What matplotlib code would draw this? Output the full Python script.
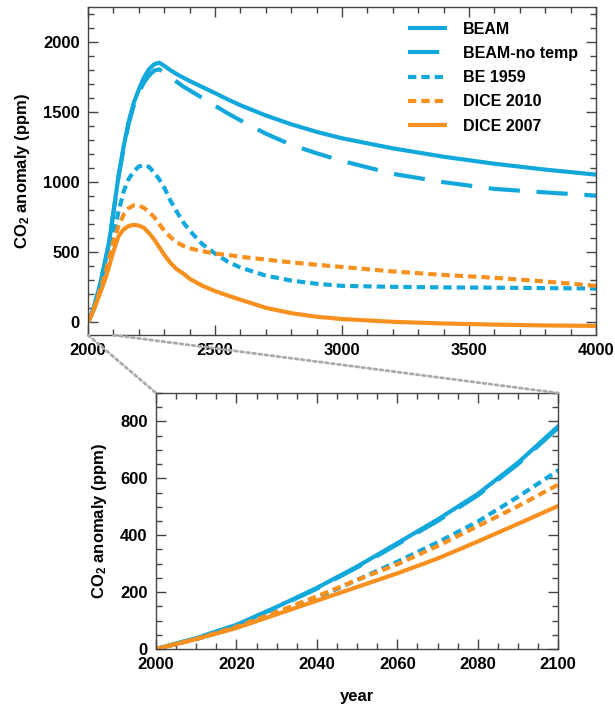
import matplotlib
matplotlib.use("Agg")
import matplotlib.pyplot as plt
from matplotlib.patches import ConnectionPatch
from matplotlib.ticker import MultipleLocator

plt.rcParams['font.family'] = ['Liberation Sans', 'DejaVu Sans']
plt.rcParams['font.weight'] = 'bold'
plt.rcParams['mathtext.fontset'] = 'custom'
plt.rcParams['mathtext.rm'] = 'Liberation Sans:bold'
plt.rcParams['mathtext.bf'] = 'Liberation Sans:bold'
plt.rcParams['mathtext.it'] = 'Liberation Sans:bold'

# data
years = [2000, 2010, 2020, 2030, 2040, 2050, 2060, 2070, 2080, 2090, 2100,
         2120, 2140, 2160, 2180, 2200, 2220, 2240, 2260, 2280, 2300,
         2325, 2350, 2375, 2400, 2450, 2500, 2550, 2600,
         2700, 2800, 2900, 3000, 3200, 3400, 3600, 3800, 4000]

beam = [0, 38, 85, 148, 215, 290, 372, 455, 545, 655, 783,
        1040, 1250, 1430, 1565, 1660, 1745, 1805, 1840, 1852, 1830,
        1798, 1770, 1745, 1722, 1678, 1635, 1590, 1548,
        1475, 1412, 1358, 1312, 1240, 1180, 1130, 1088, 1052]
beam_notemp = [0, 38, 84, 146, 212, 287, 368, 450, 540, 650, 778,
               1035, 1240, 1415, 1545, 1640, 1710, 1760, 1795, 1805, 1782,
               1745, 1715, 1682, 1655, 1600, 1545, 1490, 1440,
               1345, 1265, 1205, 1150, 1058, 998, 950, 925, 902]
be1959 = [0, 35, 75, 125, 180, 243, 307, 375, 448, 535, 628,
          785, 930, 1020, 1075, 1110, 1120, 1108, 1068, 1020, 960,
          865, 785, 712, 652, 555, 488, 430, 388,
          330, 295, 272, 257, 250, 246, 244, 241, 238]
dice2010 = [0, 35, 78, 130, 185, 243, 298, 362, 432, 502, 578,
            685, 765, 812, 833, 830, 815, 785, 750, 700, 652,
            605, 568, 543, 525, 505, 488, 478, 465,
            445, 425, 408, 392, 360, 335, 315, 288, 257]
dice2007 = [0, 35, 74, 122, 170, 218, 266, 318, 378, 440, 503,
            612, 660, 685, 693, 688, 672, 635, 590, 535, 480,
            420, 375, 345, 308, 258, 220, 188, 158,
            100, 62, 36, 20, 0, -12, -20, -26, -29]

names = ['BEAM', 'BEAM-no temp', 'BE 1959', 'DICE 2010', 'DICE 2007']
series = [beam, beam_notemp, be1959, dice2010, dice2007]

blue = '#13A8DB'
orange = '#F7901E'
colors = [blue, blue, blue, orange, orange]
dashes = [None, (7.5, 4), (2, 1.2), (2, 1.2), None]

fig = plt.figure(figsize=(6.15, 7.04), dpi=100)
ax1 = fig.add_axes([0.1431, 0.524, 0.826, 0.466])
ax2 = fig.add_axes([0.2537, 0.0781, 0.654, 0.3637])

fs = 12


def style(ax):
    for s in ax.spines.values():
        s.set_color('#444444')
        s.set_linewidth(1.0)
    ax.tick_params(which='both', direction='in', top=True, right=True,
                   color='#444444', labelsize=fs, width=1.0)
    ax.tick_params(which='major', length=7, pad=6)
    ax.tick_params(which='minor', length=4)
    for lab in ax.get_xticklabels() + ax.get_yticklabels():
        lab.set_fontweight('bold')


for ax in (ax1, ax2):
    for name, ys, c, d in zip(names, series, colors, dashes):
        line, = ax.plot(years, ys, color=c, lw=3, label=name,
                        solid_capstyle='butt', dash_capstyle='butt',
                        solid_joinstyle='round')
        if d is not None:
            line.set_dashes(d)

ax1.set_xlim(2000, 4000)
ax1.set_ylim(-95, 2250)
ax1.xaxis.set_major_locator(MultipleLocator(500))
ax1.xaxis.set_minor_locator(MultipleLocator(100))
ax1.yaxis.set_major_locator(MultipleLocator(500))
ax1.yaxis.set_minor_locator(MultipleLocator(100))
style(ax1)
ax1.set_ylabel(r'CO$_\mathrm{2}$ anomaly (ppm)', fontsize=fs,
               fontweight='bold', labelpad=8)

leg = ax1.legend(loc='upper right', frameon=False, fontsize=11.5,
                 handlelength=2.45, handletextpad=1.0, labelspacing=0.58,
                 bbox_to_anchor=(0.977, 0.975), borderaxespad=0.0)
for t in leg.get_texts():
    t.set_fontweight('bold')

ax2.set_xlim(2000, 2100)
ax2.set_ylim(0, 900)
ax2.xaxis.set_major_locator(MultipleLocator(20))
ax2.xaxis.set_minor_locator(MultipleLocator(5))
ax2.yaxis.set_major_locator(MultipleLocator(200))
ax2.yaxis.set_minor_locator(MultipleLocator(50))
style(ax2)
ax2.set_ylabel(r'CO$_\mathrm{2}$ anomaly (ppm)', fontsize=fs,
               fontweight='bold', labelpad=8)
ax2.set_xlabel('year', fontsize=fs, fontweight='bold', labelpad=12)

# zoom connector lines
y_bot = ax1.get_ylim()[0]
for xa, xb in [(2000, 2000), (2100, 2100)]:
    con = ConnectionPatch(xyA=(xa, y_bot), coordsA='data', axesA=ax1,
                          xyB=(xb, 900), coordsB='data', axesB=ax2,
                          color='#AAAAAA', lw=2, linestyle=(0, (1, 1.2)))
    fig.add_artist(con)

fig.savefig('out.png', dpi=100)
